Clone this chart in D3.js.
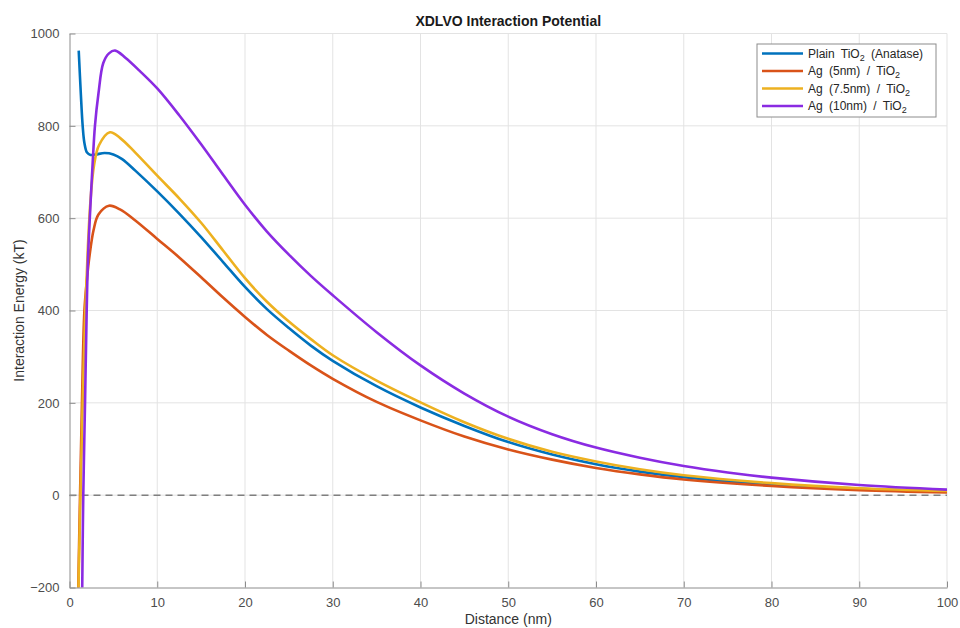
<!DOCTYPE html>
<html>
    <head>
        <meta charset="utf-8">
        <title>XDLVO Interaction Potential</title>
        <script src="https://cdn.jsdelivr.net/npm/d3@7"></script>
        <style>
            body { margin: 0; background: #fff; }
            text { font-family: "Liberation Sans", Arial, sans-serif; }
            .tick text { fill: #4d4d4d; font-size: 13px; }
            .grid line { stroke: #e3e3e3; }
        </style>
    </head>
    <body>
        <div id="chart"></div>
        <script>
            var width = 960, height = 628;
            var margin = {top: 33.5, right: 13, bottom: 40.5, left: 69.5};

            // [distance (nm), energy (kT)]
            var plainTiO2 = [[1.05, 963], [1.3, 866], [1.5, 800], [1.7, 763], [2.0, 742], [2.4, 737], [3, 738], [4, 741], [5, 738],
                [6, 728], [7.5, 703], [10, 658], [12.5, 610], [15, 559], [17.5, 505], [20, 451], [22.5, 403], [25, 362],
                [27.5, 324], [30, 291], [35, 236], [40, 190], [45, 150], [50, 115], [55, 88], [60, 67], [65, 51], [70, 39],
                [80, 23], [90, 14], [100, 8]];
            var ag5 = [[0.95, -260], [1.0, -200], [1.2, 0], [1.42, 200], [1.7, 400], [2.0, 470], [2.26, 515], [2.75, 575], [3.3, 608],
                [4.5, 627], [5.75, 619], [7.5, 595], [10, 555], [12.5, 515], [15, 472], [17.5, 428], [20, 386], [22.5, 347],
                [25, 313], [27.5, 281], [30, 252], [35, 202], [40, 162], [45, 127], [50, 99], [55, 77], [60, 59], [65, 45],
                [70, 34], [80, 20], [90, 11], [100, 6]];
            var ag75 = [[0.97, -260], [1.02, -200], [1.25, 0], [1.5, 200], [1.8, 400], [2.1, 540], [2.4, 640], [2.8, 715], [3.36, 758],
                [4.6, 786], [5.75, 774], [7.5, 742], [10, 692], [12.5, 643], [15, 590], [17.5, 530], [20, 470], [22.5, 419],
                [25, 376], [27.5, 338], [30, 303], [35, 248], [40, 201], [45, 158], [50, 122], [55, 94], [60, 73], [65, 56],
                [70, 43], [80, 26], [90, 15], [100, 9]];
            var ag10 = [[1.42, -260], [1.45, -200], [1.57, 0], [1.77, 200], [1.96, 400], [2.1, 510], [2.34, 610], [2.64, 720], [2.9, 800],
                [3.3, 870], [3.85, 936], [4.5, 957], [5.2, 963], [6.4, 947], [8, 919], [10, 881], [12.5, 823], [15, 760],
                [17.5, 694], [20, 629], [22.5, 571], [25, 521], [27.5, 475], [30, 433], [35, 353], [40, 281], [45, 220],
                [50, 170], [55, 132], [60, 103], [65, 81], [70, 63], [75, 49], [80, 38], [90, 22], [100, 12]];

            var series = [
                {name: "Plain", sub: "TiO", tail: " (Anatase)", data: plainTiO2, color: "#0072bd"},
                {name: "Ag (5nm) /", sub: "TiO", tail: "", data: ag5, color: "#d95319"},
                {name: "Ag (7.5nm) /", sub: "TiO", tail: "", data: ag75, color: "#edb120"},
                {name: "Ag (10nm) /", sub: "TiO", tail: "", data: ag10, color: "#8a2be2"}
            ];
            var xTicks = [0, 10, 20, 30, 40, 50, 60, 70, 80, 90, 100];
            var yTicks = [-200, 0, 200, 400, 600, 800, 1000];

            var svg = d3.select("#chart")
                .append("svg")
                .attr("width", width)
                .attr("height", height);

            var x = d3.scaleLinear().domain([0, 100]).range([margin.left, width - margin.right]);
            var y = d3.scaleLinear().domain([-200, 1000]).range([height - margin.bottom, margin.top]);

            // grid
            var grid = svg.append("g").attr("class", "grid");
            grid.selectAll("line.v")
                .data(xTicks.slice(1))
                .enter()
                .append("line")
                .attr("class", "v")
                .attr("x1", function (d) { return x(d); })
                .attr("x2", function (d) { return x(d); })
                .attr("y1", y(-200))
                .attr("y2", y(1000));
            grid.selectAll("line.h")
                .data(yTicks.slice(1))
                .enter()
                .append("line")
                .attr("class", "h")
                .attr("x1", x(0))
                .attr("x2", x(100))
                .attr("y1", function (d) { return y(d); })
                .attr("y2", function (d) { return y(d); });

            // zero reference
            svg.append("line")
                .attr("x1", x(0)).attr("x2", x(100))
                .attr("y1", y(0)).attr("y2", y(0))
                .attr("stroke", "#7f7f7f")
                .attr("stroke-width", 1.5)
                .attr("stroke-dasharray", "7,5");

            svg.append("clipPath").attr("id", "plot-clip")
                .append("rect")
                .attr("x", x(0)).attr("y", y(1000))
                .attr("width", x(100) - x(0)).attr("height", y(-200) - y(1000));

            var line = d3.line()
                .x(function (d) { return x(d[0]); })
                .y(function (d) { return y(d[1]); })
                .curve(d3.curveCatmullRom.alpha(0.5));

            svg.append("g")
                .attr("clip-path", "url(#plot-clip)")
                .selectAll("path")
                .data(series)
                .enter()
                .append("path")
                .attr("d", function (d) { return line(d.data); })
                .attr("fill", "none")
                .attr("stroke", function (d) { return d.color; })
                .attr("stroke-width", 2.6)
                .attr("stroke-linejoin", "round");

            // axes, ticks pointing inward
            var xAxis = d3.axisBottom(x).tickValues(xTicks).tickFormat(d3.format("d"))
                .tickSizeInner(-6).tickSizeOuter(0).tickPadding(10);
            var yAxis = d3.axisLeft(y).tickValues(yTicks).tickFormat(d3.format("d"))
                .tickSizeInner(-6).tickSizeOuter(0).tickPadding(10);

            svg.append("g")
                .attr("transform", "translate(0," + y(-200) + ")")
                .call(xAxis);
            svg.append("g")
                .attr("transform", "translate(" + x(0) + ",0)")
                .call(yAxis);
            svg.selectAll(".domain, .tick line").attr("stroke", "#8c8c8c");

            // titles
            svg.append("text")
                .attr("x", (x(0) + x(100)) / 2)
                .attr("y", 26)
                .attr("text-anchor", "middle")
                .attr("font-weight", "bold")
                .attr("font-size", 14)
                .attr("fill", "#1a1a1a")
                .text("XDLVO Interaction Potential");
            svg.append("text")
                .attr("x", (x(0) + x(100)) / 2)
                .attr("y", 624)
                .attr("text-anchor", "middle")
                .attr("font-size", 14)
                .attr("fill", "#333")
                .text("Distance (nm)");
            svg.append("text")
                .attr("transform", "translate(24," + ((y(-200) + y(1000)) / 2) + ") rotate(-90)")
                .attr("text-anchor", "middle")
                .attr("font-size", 14)
                .attr("fill", "#333")
                .text("Interaction Energy (kT)");

            // legend
            var legend = svg.append("g").attr("transform", "translate(757,44)");
            legend.append("rect")
                .attr("width", 179).attr("height", 73)
                .attr("fill", "#fff")
                .attr("stroke", "#8c8c8c");
            var rows = legend.selectAll("g.row")
                .data(series)
                .enter()
                .append("g")
                .attr("transform", function (d, i) { return "translate(0," + (9.5 + i * 17.5) + ")"; });
            rows.append("line")
                .attr("x1", 5).attr("x2", 46)
                .attr("stroke", function (d) { return d.color; })
                .attr("stroke-width", 2.6);
            var label = rows.append("text")
                .attr("x", 51)
                .attr("y", 4)
                .attr("font-size", 12)
                .attr("fill", "#262626")
                .attr("word-spacing", 3);
            label.append("tspan").text(function (d) { return d.name + " " + d.sub; });
            label.append("tspan").attr("dy", 3).attr("font-size", 9).text("2");
            label.append("tspan").attr("dy", -3).text(function (d) { return d.tail; });
        </script>
    </body>
</html>
